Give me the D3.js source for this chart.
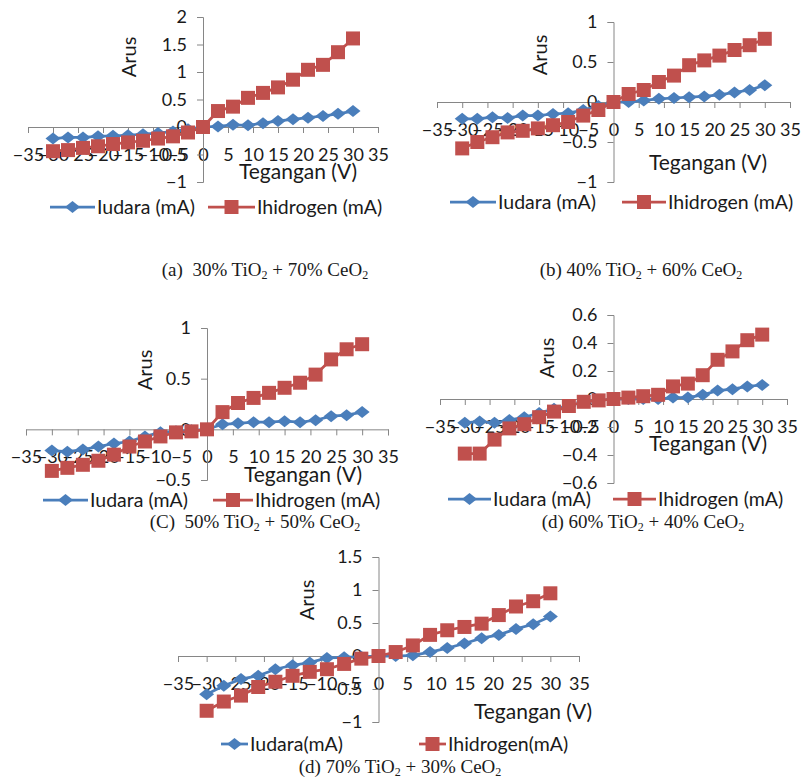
<!DOCTYPE html>
<html>
<head>
<meta charset="utf-8">
<script src="https://cdn.jsdelivr.net/npm/d3@7"></script>
<style>
  body { margin: 0; background: #fff; }
  svg text { font-family: Lato, 'Open Sans', sans-serif; fill: #1a1a1a; }
  text.caption { font-family: 'Liberation Serif', 'DejaVu Serif', serif; }
</style>
</head>
<body>
<div id="chart"></div>
<script>
// voltage steps (V), same for every sample
const voltage = [-30, -27, -24, -21, -18, -15, -12, -9, -6, -3, 0, 3, 6, 9, 12, 15, 18, 21, 24, 27, 30]

// current in air / hydrogen (mA)
const udara30 = [-0.21, -0.19, -0.19, -0.17, -0.16, -0.15, -0.13, -0.11, -0.08, -0.04, 0, 0.01, 0.04, 0.03, 0.07, 0.11, 0.14, 0.17, 0.2, 0.24, 0.29]
const hidrogen30 = [-0.44, -0.42, -0.38, -0.35, -0.31, -0.28, -0.25, -0.21, -0.17, -0.1, 0, 0.29, 0.37, 0.53, 0.62, 0.72, 0.86, 1.04, 1.13, 1.36, 1.61]

const udara40 = [-0.21, -0.21, -0.19, -0.2, -0.17, -0.17, -0.15, -0.14, -0.1, -0.05, 0, 0, 0.02, 0.04, 0.05, 0.06, 0.07, 0.09, 0.12, 0.15, 0.21]
const hidrogen40 = [-0.58, -0.5, -0.44, -0.38, -0.36, -0.33, -0.29, -0.25, -0.17, -0.1, 0, 0.1, 0.15, 0.25, 0.33, 0.46, 0.52, 0.58, 0.65, 0.71, 0.79]

const udara50 = [-0.21, -0.22, -0.2, -0.17, -0.14, -0.12, -0.07, -0.03, -0.02, -0.01, 0, 0.05, 0.06, 0.07, 0.07, 0.08, 0.07, 0.09, 0.13, 0.14, 0.17]
const hidrogen50 = [-0.41, -0.38, -0.35, -0.31, -0.25, -0.17, -0.12, -0.07, -0.03, -0.02, 0, 0.17, 0.26, 0.31, 0.36, 0.41, 0.46, 0.54, 0.69, 0.79, 0.84]

const udara60 = [-0.17, -0.16, -0.17, -0.15, -0.13, -0.1, -0.07, -0.05, -0.02, -0.01, 0, 0, 0, 0, 0.01, 0.01, 0.03, 0.06, 0.07, 0.09, 0.1]
const hidrogen60 = [-0.39, -0.39, -0.29, -0.21, -0.18, -0.13, -0.09, -0.05, -0.02, -0.01, 0, 0.01, 0.02, 0.03, 0.09, 0.11, 0.17, 0.28, 0.34, 0.42, 0.46]

const udara70 = [-0.58, -0.45, -0.35, -0.3, -0.2, -0.14, -0.1, -0.03, -0.02, -0.01, 0, 0, 0.01, 0.06, 0.12, 0.19, 0.27, 0.32, 0.41, 0.48, 0.6]
const hidrogen70 = [-0.83, -0.69, -0.6, -0.47, -0.39, -0.3, -0.24, -0.2, -0.12, -0.04, 0, 0.06, 0.16, 0.32, 0.39, 0.44, 0.49, 0.62, 0.75, 0.83, 0.95]

// tick labels
const xTicks = [-35, -30, -25, -20, -15, -10, -5, 0, 5, 10, 15, 20, 25, 30, 35]
const yTicks30 = [-1, -0.5, 0, 0.5, 1, 1.5, 2]
const yTicks40 = [-1, -0.5, 0, 0.5, 1]
const yTicks50 = [-0.5, 0, 0.5, 1]
const yTicks60 = [-0.6, -0.4, -0.2, 0, 0.2, 0.4, 0.6]
const yTicks70 = [-1, -0.5, 0, 0.5, 1, 1.5]

const blue = '#4A7EBB'
const red = '#C0504D'
const axisColor = '#868686'
const diamond = 'M-7.5,0L0,-6L7.5,0L0,6Z'
const square = 'M-7,-7H7V7H-7Z'

let svg = d3.select('#chart')
  .append('svg')
  .attr('width', 803)
  .attr('height', 782)

// one panel = one little excel chart
function drawPanel(p) {
  let g = svg.append('g')

  let x = d3.scaleLinear().domain([-35, 35]).range(p.xRange)
  let y = d3.scaleLinear().domain(d3.extent(p.yTicks)).range(p.yRange)

  // x axis through zero
  g.append('g')
    .attr('transform', 'translate(0,' + y(0) + ')')
    .call(d3.axisBottom(x).tickValues(xTicks).tickSize(6).tickPadding(15).tickSizeOuter(6))
  // y axis through zero
  g.append('g')
    .attr('transform', 'translate(' + x(0) + ',0)')
    .call(d3.axisLeft(y).tickValues(p.yTicks).tickFormat(d3.format('~g')).tickSize(6).tickPadding(10).tickSizeOuter(6))

  g.selectAll('.domain, .tick line').attr('stroke', axisColor)
  g.selectAll('.tick text').attr('font-size', 18).attr('fill', '#1a1a1a')
    .style('font-family', 'Lato, sans-serif')

  let line = d3.line()
    .x(function(d) { return x(d.v) })
    .y(function(d) { return y(d.i) })

  // udara drawn first so hidrogen squares sit on top
  let series = [
    {key: 'udara', color: blue, values: p.udara, shape: diamond},
    {key: 'hidrogen', color: red, values: p.hidrogen, shape: square}
  ]
  series.forEach(function(s) {
    let pts = voltage.map(function(v, k) { return {v: v, i: s.values[k]} })
    g.append('path')
      .datum(pts)
      .attr('fill', 'none')
      .attr('stroke', s.color)
      .attr('stroke-width', 2.75)
      .attr('d', line)
    g.selectAll('.m-' + s.key)
      .data(pts)
      .enter()
      .append('path')
      .attr('class', 'm-' + s.key)
      .attr('transform', function(d) { return 'translate(' + x(d.v) + ',' + y(d.i) + ')' })
      .attr('d', s.shape)
      .attr('fill', s.color)
  })

  // axis titles
  g.append('text')
    .attr('transform', 'translate(' + p.arus[0] + ',' + p.arus[1] + ') rotate(-90)')
    .attr('text-anchor', 'middle')
    .attr('dy', '0.35em')
    .attr('font-size', 20)
    .text('Arus')
  g.append('text')
    .attr('x', p.tegangan[0])
    .attr('y', p.tegangan[1])
    .attr('text-anchor', 'middle')
    .attr('dy', '0.35em')
    .attr('font-size', 21)
    .text('Tegangan (V)')

  // legend
  let lg = p.legend
  let items = [
    {color: blue, line: lg.blue, tx: lg.blueText, label: lg.udaraLabel, shape: diamond},
    {color: red, line: lg.red, tx: lg.redText, label: lg.hidrogenLabel, shape: square}
  ]
  items.forEach(function(it) {
    g.append('line')
      .attr('x1', it.line[0]).attr('x2', it.line[1])
      .attr('y1', lg.y).attr('y2', lg.y)
      .attr('stroke', it.color).attr('stroke-width', 2.75)
    g.append('path')
      .attr('transform', 'translate(' + (it.line[0] + it.line[1]) / 2 + ',' + lg.y + ')')
      .attr('d', it.shape)
      .attr('fill', it.color)
    g.append('text')
      .attr('x', it.tx).attr('y', lg.y)
      .attr('dy', '0.35em')
      .attr('font-size', 19.5)
      .text(it.label)
  })

  // caption with subscripts
  let c = svg.append('text')
    .attr('class', 'caption')
    .attr('x', p.caption.x)
    .attr('y', p.caption.y)
    .attr('text-anchor', 'middle')
    .attr('dy', '0.35em')
    .attr('font-size', 19)
  c.append('tspan').text(p.caption.tag + ' ' + p.caption.ti + '% TiO')
  c.append('tspan').attr('dy', 3).attr('font-size', 12).text('2')
  c.append('tspan').attr('dy', -3).text(' + ' + p.caption.ce + '% CeO')
  c.append('tspan').attr('dy', 3).attr('font-size', 12).text('2')
}

drawPanel({
  xRange: [28, 378], yTicks: yTicks30, yRange: [182, 17],
  udara: udara30, hidrogen: hidrogen30,
  arus: [129, 57], tegangan: [298, 172],
  legend: {y: 207, blue: [50, 95], blueText: 97, red: [208, 255], redText: 257,
    udaraLabel: 'Iudara (mA)', hidrogenLabel: 'Ihidrogen (mA)'},
  caption: {x: 265, y: 269, tag: '(a)\u00a0', ti: 30, ce: 70}
})

drawPanel({
  xRange: [437, 790], yTicks: yTicks40, yRange: [182, 22],
  udara: udara40, hidrogen: hidrogen40,
  arus: [540, 55], tegangan: [708, 163],
  legend: {y: 202, blue: [450, 496], blueText: 498, red: [622, 666], redText: 668,
    udaraLabel: 'Iudara (mA)', hidrogenLabel: 'Ihidrogen (mA)'},
  caption: {x: 641, y: 269, tag: '(b)', ti: 40, ce: 60}
})

drawPanel({
  xRange: [26, 388], yTicks: yTicks50, yRange: [480, 328],
  udara: udara50, hidrogen: hidrogen50,
  arus: [145, 370], tegangan: [303, 475],
  legend: {y: 500, blue: [43, 88], blueText: 90, red: [213, 253], redText: 255,
    udaraLabel: 'Iudara (mA)', hidrogenLabel: 'Ihidrogen (mA)'},
  caption: {x: 255, y: 521, tag: '(C)\u00a0', ti: 50, ce: 50}
})

drawPanel({
  xRange: [440, 787], yTicks: yTicks60, yRange: [483, 315],
  udara: udara60, hidrogen: hidrogen60,
  arus: [547, 358], tegangan: [708, 444],
  legend: {y: 499, blue: [448, 491], blueText: 493, red: [613, 656], redText: 658,
    udaraLabel: 'Iudara (mA)', hidrogenLabel: 'Ihidrogen (mA)'},
  caption: {x: 643, y: 521, tag: '(d)', ti: 60, ce: 40}
})

drawPanel({
  xRange: [178, 579], yTicks: yTicks70, yRange: [722, 557],
  udara: udara70, hidrogen: hidrogen70,
  arus: [307, 600], tegangan: [533, 712],
  legend: {y: 744, blue: [221, 248], blueText: 250, red: [419, 446], redText: 448,
    udaraLabel: 'Iudara(mA)', hidrogenLabel: 'Ihidrogen(mA)'},
  caption: {x: 400, y: 766, tag: '(d)', ti: 70, ce: 30}
})
</script>
</body>
</html>
